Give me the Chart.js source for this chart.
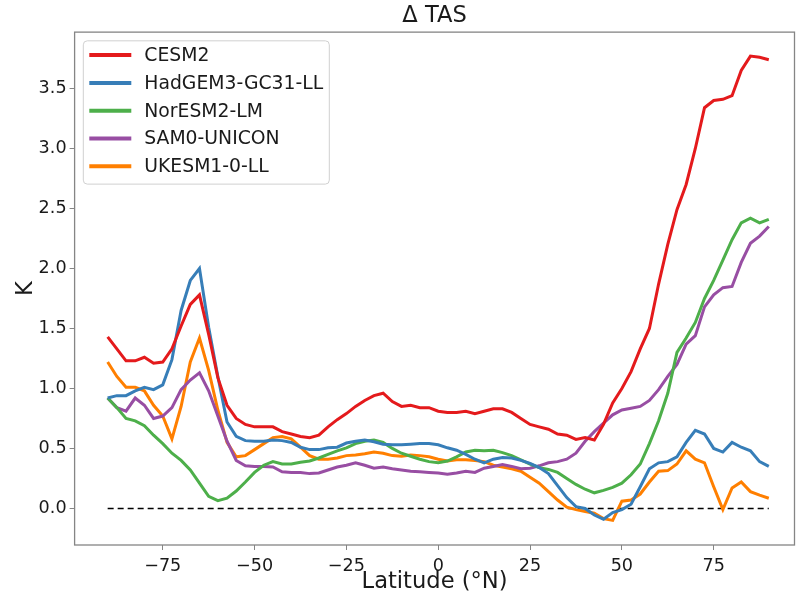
<!DOCTYPE html>
<html>
<head>
<meta charset="utf-8">
<title>Δ TAS</title>
<script src="https://cdn.jsdelivr.net/npm/chart.js@4.4.1/dist/chart.umd.min.js"></script>
<style>
  html, body { margin: 0; padding: 0; background: #fff; }
  #wrap { width: 796px; height: 598px; }
</style>
</head>
<body>
<div id="wrap"><canvas id="tas"></canvas></div>
<script>
// latitude grid (°N), 2.5° steps
const lat = [];
for (let v = -90; v <= 90; v += 2.5) lat.push(v);

const cesm2 = [1.43, 1.33, 1.23, 1.23, 1.26, 1.21, 1.22, 1.33, 1.52, 1.70,
  1.78, 1.45, 1.09, 0.86, 0.75, 0.70, 0.68, 0.68, 0.68, 0.64,
  0.62, 0.60, 0.59, 0.61, 0.68, 0.74, 0.79, 0.85, 0.90, 0.94,
  0.96, 0.89, 0.85, 0.86, 0.84, 0.84, 0.81, 0.80, 0.80, 0.81,
  0.79, 0.81, 0.83, 0.83, 0.80, 0.75, 0.70, 0.68, 0.66, 0.62,
  0.61, 0.575, 0.59, 0.57, 0.70, 0.88, 1.00, 1.14, 1.33, 1.50,
  1.87, 2.20, 2.49, 2.70, 3.00, 3.34, 3.40, 3.41, 3.44, 3.65,
  3.77, 3.76, 3.74];

const hadgem3 = [0.92, 0.94, 0.94, 0.98, 1.01, 0.99, 1.03, 1.24, 1.65, 1.90,
  2.00, 1.51, 1.10, 0.72, 0.60, 0.565, 0.56, 0.56, 0.57, 0.565,
  0.55, 0.51, 0.49, 0.49, 0.505, 0.51, 0.545, 0.56, 0.57, 0.555,
  0.535, 0.53, 0.53, 0.535, 0.54, 0.54, 0.53, 0.505, 0.485, 0.45,
  0.41, 0.38, 0.41, 0.425, 0.42, 0.40, 0.375, 0.34, 0.29, 0.19,
  0.09, 0.015, 0.0, -0.055, -0.09, -0.035, -0.01, 0.035, 0.18, 0.33,
  0.38, 0.39, 0.43, 0.55, 0.65, 0.62, 0.50, 0.47, 0.55, 0.51,
  0.48, 0.39, 0.35];

const noresm2 = [0.92, 0.84, 0.75, 0.73, 0.69, 0.61, 0.54, 0.46, 0.40, 0.32,
  0.21, 0.10, 0.065, 0.085, 0.145, 0.22, 0.30, 0.36, 0.39, 0.37,
  0.37, 0.385, 0.395, 0.42, 0.45, 0.48, 0.505, 0.54, 0.56, 0.57,
  0.55, 0.50, 0.46, 0.435, 0.41, 0.39, 0.38, 0.395, 0.43, 0.47,
  0.485, 0.48, 0.485, 0.465, 0.44, 0.405, 0.37, 0.34, 0.325, 0.30,
  0.25, 0.20, 0.16, 0.13, 0.15, 0.175, 0.21, 0.28, 0.37, 0.54,
  0.73, 0.96, 1.30, 1.42, 1.55, 1.75, 1.90, 2.07, 2.24, 2.38,
  2.42, 2.38, 2.41];

const sam0 = [0.92, 0.84, 0.81, 0.92, 0.86, 0.75, 0.77, 0.84, 0.99, 1.07,
  1.13, 0.98, 0.77, 0.56, 0.40, 0.355, 0.35, 0.35, 0.345, 0.305,
  0.30, 0.30, 0.29, 0.295, 0.32, 0.345, 0.36, 0.38, 0.36, 0.335,
  0.345, 0.33, 0.32, 0.31, 0.305, 0.30, 0.295, 0.285, 0.295, 0.31,
  0.30, 0.335, 0.35, 0.365, 0.35, 0.33, 0.335, 0.355, 0.38, 0.39,
  0.41, 0.46, 0.56, 0.64, 0.71, 0.78, 0.82, 0.835, 0.85, 0.90,
  0.99, 1.10, 1.20, 1.37, 1.44, 1.68, 1.78, 1.84, 1.85, 2.05,
  2.21, 2.27, 2.35];

const ukesm1 = [1.22, 1.10, 1.01, 1.01, 0.98, 0.86, 0.77, 0.58, 0.85, 1.22,
  1.42, 1.15, 0.82, 0.55, 0.43, 0.44, 0.49, 0.54, 0.59, 0.60,
  0.58, 0.51, 0.44, 0.41, 0.41, 0.42, 0.44, 0.445, 0.455, 0.47,
  0.46, 0.44, 0.435, 0.445, 0.44, 0.43, 0.41, 0.395, 0.405, 0.405,
  0.40, 0.39, 0.36, 0.345, 0.33, 0.31, 0.26, 0.21, 0.14, 0.07,
  0.01, -0.01, -0.025, -0.04, -0.085, -0.10, 0.06, 0.07, 0.12, 0.22,
  0.31, 0.315, 0.37, 0.48, 0.41, 0.38, 0.18, -0.01, 0.17, 0.22,
  0.14, 0.11, 0.085];

const models = ["CESM2", "HadGEM3-GC31-LL", "NorESM2-LM", "SAM0-UNICON", "UKESM1-0-LL"];
const series = [cesm2, hadgem3, noresm2, sam0, ukesm1];
const colors = ["#e41a1c", "#377eb8", "#4daf4a", "#984ea3", "#ff7f00"];

const xTicks = [-75, -50, -25, 0, 25, 50, 75];
const yTicks = [0, 0.5, 1, 1.5, 2, 2.5, 3, 3.5];

const FONT = "'DejaVu Sans', sans-serif";
const minus = v => String(v).replace("-", "\u2212");

const datasets = series.map((vals, i) => ({
  label: models[i],
  data: vals.map((v, j) => ({ x: lat[j], y: v })),
  borderColor: colors[i],
  backgroundColor: colors[i],
  borderWidth: 3,
  pointRadius: 0,
  tension: 0,
  fill: false,
}));

// zero reference line
datasets.push({
  label: "zero",
  data: [{ x: lat[0], y: 0 }, { x: lat[lat.length - 1], y: 0 }],
  borderColor: "#000",
  borderWidth: 1.5,
  borderDash: [6, 4],
  pointRadius: 0,
  isRef: true,
});

// axes frame (matplotlib style box)
const framePlugin = {
  id: "frame",
  afterDraw(chart) {
    const { ctx, chartArea: a } = chart;
    ctx.save();
    ctx.strokeStyle = "#858585";
    ctx.lineWidth = 1.3;
    ctx.strokeRect(a.left, a.top, a.right - a.left, a.bottom - a.top);
    ctx.restore();
  },
};

// legend box drawn inside the axes, upper left
const boxLegend = {
  id: "boxLegend",
  afterDraw(chart) {
    const { ctx, chartArea: a } = chart;
    const items = chart.data.datasets.filter(d => !d.isRef);
    const x0 = a.left + 8.7, y0 = a.top + 8.7;
    const w = 246, h = 143.3, rowH = 27.8;
    ctx.save();
    ctx.beginPath();
    ctx.roundRect(x0, y0, w, h, 4);
    ctx.fillStyle = "rgba(255,255,255,0.8)";
    ctx.fill();
    ctx.strokeStyle = "#d0d0d0";
    ctx.lineWidth = 1;
    ctx.stroke();
    ctx.font = "18.8px " + FONT;
    ctx.textBaseline = "middle";
    ctx.fillStyle = "#1a1a1a";
    items.forEach((d, i) => {
      const y = y0 + 14.3 + i * rowH;
      ctx.beginPath();
      ctx.moveTo(x0 + 6, y);
      ctx.lineTo(x0 + 48, y);
      ctx.strokeStyle = d.borderColor;
      ctx.lineWidth = 4;
      ctx.stroke();
      ctx.fillText(d.label, x0 + 61, y + 1);
    });
    ctx.restore();
  },
};

new Chart(document.getElementById("tas"), {
  type: "line",
  data: { datasets },
  options: {
    responsive: true,
    maintainAspectRatio: false,
    animation: false,
    layout: { padding: { left: 0, right: 1.5, top: 0, bottom: 0 } },
    plugins: {
      legend: { display: false },
      tooltip: { enabled: false },
      title: {
        display: true,
        text: "Δ TAS",
        fullSize: false,
        color: "#1a1a1a",
        font: { family: FONT, size: 22.6, weight: "normal" },
        padding: { top: 3, bottom: 2 },
      },
    },
    scales: {
      x: {
        type: "linear",
        min: -99,
        max: 97,
        afterFit: s => { s.height = 53; },
        afterBuildTicks: s => { s.ticks = xTicks.map(v => ({ value: v })); },
        grid: { display: true, drawOnChartArea: false, drawTicks: true, tickLength: 5, color: "#858585" },
        border: { display: false },
        ticks: {
          color: "#1a1a1a",
          font: { family: FONT, size: 17.6 },
          padding: 6,
          maxRotation: 0,
          callback: v => minus(v),
        },
        title: {
          display: true,
          text: "Latitude (°N)",
          color: "#1a1a1a",
          font: { family: FONT, size: 22.6 },
          padding: { top: 0, bottom: 2 },
        },
      },
      y: {
        type: "linear",
        min: -0.305,
        max: 3.97,
        afterFit: s => { s.width = 74.6; },
        afterBuildTicks: s => { s.ticks = yTicks.map(v => ({ value: v })); },
        grid: { display: true, drawOnChartArea: false, drawTicks: true, tickLength: 5, color: "#858585" },
        border: { display: false },
        ticks: {
          color: "#1a1a1a",
          font: { family: FONT, size: 17.6 },
          padding: 3,
          callback: v => minus(v.toFixed(1)),
        },
        title: {
          display: true,
          text: "K",
          color: "#1a1a1a",
          font: { family: FONT, size: 22.6 },
          padding: { top: 13, bottom: 0 },
        },
      },
    },
  },
  plugins: [framePlugin, boxLegend],
});
</script>
</body>
</html>
